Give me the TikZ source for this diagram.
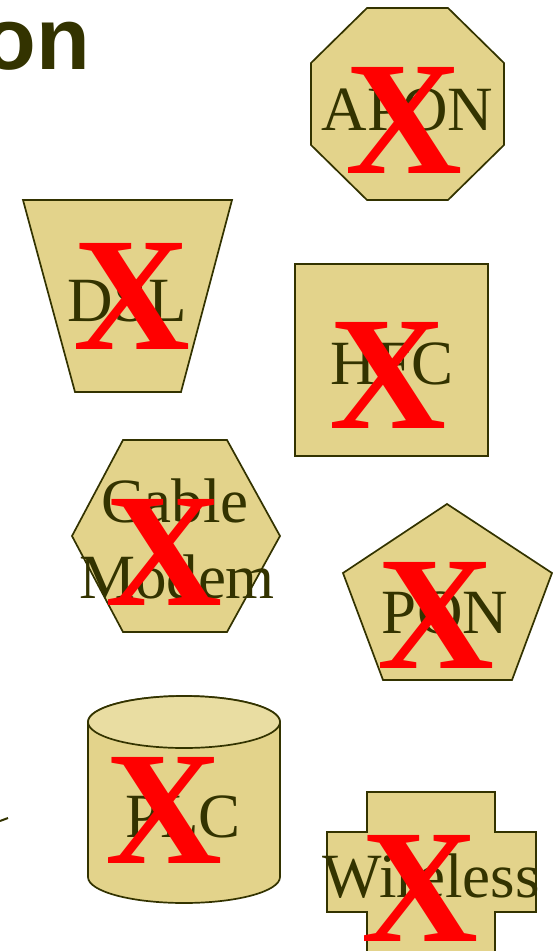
\documentclass[tikz,border=0pt]{standalone}
\usepackage{fontspec}
\setmainfont{Liberation Serif}
\newfontfamily\titlefont{Liberation Sans}
\definecolor{olive}{HTML}{333300}
\definecolor{tan}{HTML}{E3D38B}
\definecolor{tanlight}{HTML}{E9DDA2}
\definecolor{xred}{HTML}{FF0000}
\begin{document}
\begin{tikzpicture}[x=1pt,y=-1pt,
  shp/.style={draw=olive,fill=tan,line width=1.7pt,line join=miter},
  lbl/.style={anchor=base,text=olive,inner sep=0pt,font=\fontsize{63}{63}\selectfont},
  xmark/.style={anchor=base,text=xred,inner sep=0pt,font=\fontsize{162}{162}\selectfont\bfseries}]
\useasboundingbox (0,0) rectangle (553,951);
% title fragment
\node[anchor=base east,text=olive,inner sep=0pt,font=\titlefont\bfseries\fontsize{88}{88}\selectfont] (title) at (90,69) {on};
% tiny fragment at left
\coordinate (fa) at (0,821);
\coordinate (fb) at (8,818);
\draw[olive,line width=2pt] (fa) -- (fb);
% APON octagon
\draw[shp] (367,8) -- (448,8) -- (504,63) -- (504,145) -- (448,200) -- (367,200) -- (311,145) -- (311,63) -- cycle;
\node[lbl] (apon) at (407.5,130) {APON};
\node[xmark] (xapon) at (403.5,173) {X};
% DSL trapezoid
\draw[shp] (23,200) -- (232,200) -- (181,392) -- (75,392) -- cycle;
\node[lbl] (dsl) at (127.5,321) {DSL};
\node[xmark] (xdsl) at (132,349) {X};
% HFC square
\draw[shp] (295,264) rectangle (488,456);
\node[lbl] (hfc) at (392,384) {HFC};
\node[xmark] (xhfc) at (388,428) {X};
% Cable Modem hexagon
\draw[shp] (123,440) -- (227,440) -- (280,536) -- (227,632) -- (123,632) -- (72,536) -- cycle;
\node[lbl] (cable) at (175,522) {Cable};
\node[lbl] (modem) at (177,598) {Modem};
\node[xmark] (xcm) at (164,605) {X};
% PON pentagon
\draw[shp] (447,504) -- (552,573) -- (512,680) -- (383,680) -- (343,573) -- cycle;
\node[lbl] (pon) at (445,633) {PON};
\node[xmark] (xpon) at (436,668) {X};
% PLC cylinder
\draw[shp] (88,722) -- (88,877) arc[start angle=180,end angle=0,x radius=96,y radius=26] -- (280,722) arc[start angle=0,end angle=-180,x radius=96,y radius=26] -- cycle;
\draw[draw=olive,fill=tanlight,line width=1.7pt] (184,722) ellipse[x radius=96,y radius=26];
\node[lbl] (plc) at (183,837) {PLC};
\node[xmark] (xplc) at (164,863) {X};
% Wireless cross
\draw[shp] (367,960) -- (367,912) -- (327,912) -- (327,832) -- (367,832) -- (367,792) -- (495,792) -- (495,832) -- (536,832) -- (536,912) -- (495,912) -- (495,960);
\node[lbl] (wireless) at (431,897) {Wireless};
\node[xmark] (xwl) at (420,941) {X};
\end{tikzpicture}
\end{document}
